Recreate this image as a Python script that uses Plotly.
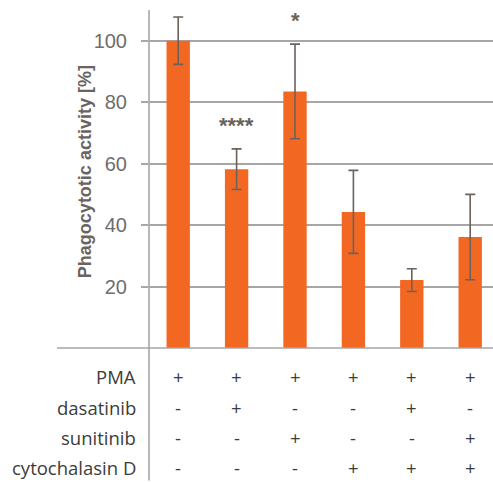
import plotly.graph_objects as go

# ---- data ----
conditions = ["c1", "c2", "c3", "c4", "c5", "c6"]
activity = [100, 58.2, 83.5, 44.3, 22.1, 36.1]
errors = [7.7, 6.6, 15.4, 13.5, 3.7, 13.9]
significance = ["", "****", "*", "", "", ""]
y_ticks = [20, 40, 60, 80, 100]

treatment_names = ["PMA", "dasatinib", "sunitinib", "cytochalasin D"]
treatment_matrix = [
    ["+", "+", "+", "+", "+", "+"],
    ["-", "+", "-", "-", "+", "-"],
    ["-", "-", "+", "-", "-", "+"],
    ["-", "-", "-", "+", "+", "+"],
]

# ---- style ----
W, H = 493, 483
L, T = 149, 10
B = 483 - 347.7
plot_w = W - L
plot_h = H - T - B

orange = "#F26822"
grid = "#a6a6a6"
err_col = "#6b625c"
tick_col = "#6d6d6d"
table_col = "#3c3c3c"

def py(px):
    """pixel y (from top) -> paper y"""
    return (H - B - px) / plot_h

def px_x(px):
    return (px - L) / plot_w

xidx = list(range(len(conditions)))

fig = go.Figure()
fig.add_trace(go.Bar(
    x=xidx, y=activity,
    marker=dict(color=orange, line=dict(width=0)),
    width=0.4,
    error_y=dict(type="data", array=errors, visible=True,
                 color=err_col, thickness=1.6, width=5),
    showlegend=False,
))

annotations = []
for i, (v, e, s) in enumerate(zip(activity, errors, significance)):
    if s:
        annotations.append(dict(
            x=i, y=v + e, xref="x", yref="y", text="<b>" + s + "</b>", showarrow=False,
            yanchor="bottom", yshift=9,
            font=dict(family="Liberation Sans, Arial", size=22, color=err_col),
        ))

row_px = [376.5, 407, 437.5, 467]
for r, (name, row) in enumerate(zip(treatment_names, treatment_matrix)):
    yp = py(row_px[r])
    annotations.append(dict(
        x=px_x(138), y=yp, xref="paper", yref="paper", text=name,
        showarrow=False, xanchor="right", yanchor="middle",
        font=dict(family="Open Sans", size=18.5, color=table_col),
    ))
    for i, sym in enumerate(row):
        annotations.append(dict(
            x=i, y=yp, xref="x", yref="paper", text=sym,
            showarrow=False, xanchor="center", yanchor="middle",
            font=dict(family="Open Sans", size=18.5, color=table_col),
        ))

annotations.append(dict(
    x=px_x(85), y=py(172), xref="paper", yref="paper",
    text="<b>Phagocytotic activity [%]</b>", textangle=-90, showarrow=False,
    xanchor="center", yanchor="middle",
    font=dict(family="Liberation Sans, Arial", size=18, color="#6b6360"),
))

shapes = [
    dict(type="line", xref="paper", yref="paper",
         x0=px_x(57), x1=1.0, y0=0, y1=0, line=dict(color=grid, width=1.6)),
    dict(type="line", xref="paper", yref="paper",
         x0=0, x1=0, y0=py(480), y1=1.0, line=dict(color=grid, width=1.6)),
]

fig.update_layout(
    width=W, height=H,
    margin=dict(l=L, r=0, t=T, b=B, pad=0),
    plot_bgcolor="white", paper_bgcolor="white",
    bargap=0.6,
    annotations=annotations,
    shapes=shapes,
    xaxis=dict(range=[-0.5, -0.5 + plot_w / 58.4], showticklabels=False,
               showgrid=False, zeroline=False, showline=False, ticks=""),
    yaxis=dict(range=[0, 110], tickvals=y_ticks, showgrid=True,
               gridcolor=grid, gridwidth=1.6, zeroline=False, showline=False,
               ticks="outside", ticklen=7, tickcolor=grid, tickwidth=1.6,
               tickfont=dict(family="Liberation Sans, Arial", size=20, color=tick_col),
               ticklabelstandoff=10),
)

fig.write_html("out.html")
